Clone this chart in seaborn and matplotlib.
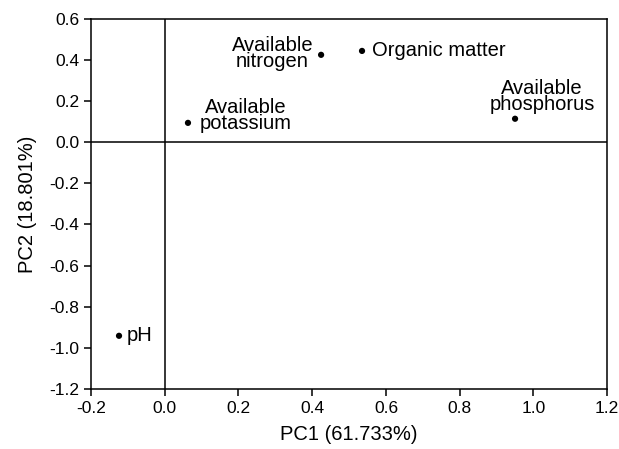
import matplotlib
matplotlib.use("Agg")
import matplotlib.pyplot as plt
import seaborn as sns
import pandas as pd

# PCA loadings
variables = ["pH", "Available\npotassium", "Available\nnitrogen", "Organic matter", "Available\nphosphorus"]
pc1 = [-0.124, 0.063, 0.424, 0.535, 0.950]
pc2 = [-0.942, 0.094, 0.425, 0.444, 0.114]

# label placement (offset in pixels, alignment)
label_pos = {
    "pH": ((8, 0), "left", "center"),
    "Available\npotassium": ((12, 7), "left", "center"),
    "Available\nnitrogen": ((-8, 1), "right", "center"),
    "Organic matter": ((10, 0), "left", "center"),
    "Available\nphosphorus": ((27, 5), "center", "bottom"),
}

df = pd.DataFrame({"variable": variables, "PC1": pc1, "PC2": pc2})

sns.set_style("ticks")
plt.rcParams["font.family"] = ["Liberation Sans", "DejaVu Sans"]
plt.rcParams["axes.linewidth"] = 1.1
plt.rcParams["text.color"] = "black"
plt.rcParams["axes.labelcolor"] = "black"
plt.rcParams["xtick.color"] = "black"
plt.rcParams["ytick.color"] = "black"

fig, ax = plt.subplots(figsize=(6.19, 4.49), dpi=100)
fig.subplots_adjust(left=0.147, right=0.981, top=0.958, bottom=0.134)

ax.axhline(0, color="black", lw=1.1, zorder=1)
ax.axvline(0, color="black", lw=1.1, zorder=1)

sns.scatterplot(data=df, x="PC1", y="PC2", color="black", s=20, edgecolor="none", ax=ax, zorder=3)

for _, row in df.iterrows():
    off, ha, va = label_pos[row["variable"]]
    ax.annotate(row["variable"], (row["PC1"], row["PC2"]), xytext=off,
                textcoords="offset pixels", ha=ha, va=va, multialignment="center",
                fontsize=14.5, linespacing=0.8, color="black")

ax.set_xlim(-0.2, 1.2)
ax.set_ylim(-1.2, 0.6)
ax.set_xticks([-0.2, 0.0, 0.2, 0.4, 0.6, 0.8, 1.0, 1.2])
ax.set_yticks([-1.2, -1.0, -0.8, -0.6, -0.4, -0.2, 0.0, 0.2, 0.4, 0.6])
ax.xaxis.set_major_formatter(matplotlib.ticker.FormatStrFormatter("%.1f"))
ax.yaxis.set_major_formatter(matplotlib.ticker.FormatStrFormatter("%.1f"))
ax.tick_params(direction="out", length=5, width=1.1, labelsize=12.5, colors="black")
for sp in ax.spines.values():
    sp.set_color("black")

ax.set_xlabel("PC1 (61.733%)", fontsize=14.5, labelpad=7)
ax.set_ylabel("PC2 (18.801%)", fontsize=14.5, labelpad=9)

fig.savefig("out.png", dpi=100)
